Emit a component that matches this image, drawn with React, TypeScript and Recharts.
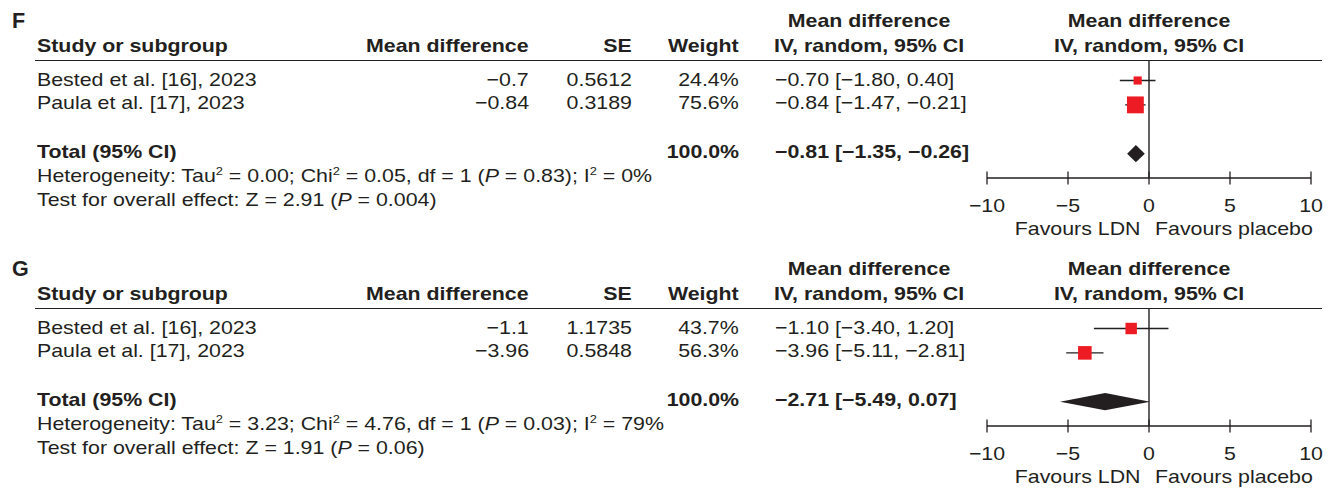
import React from 'react';
import { ComposedChart, Scatter, Area, XAxis, YAxis, ReferenceLine, ErrorBar } from 'recharts';

// ---------- data ----------
const studyNames = ['Bested et al. [16], 2023', 'Paula et al. [17], 2023'];
const studyRows = [1, 2];
const totalRow = 4;

// Panel F
const fMd = [-0.7, -0.84];
const fSe = ['0.5612', '0.3189'];
const fWeight = [24.4, 75.6];
const fCiLow = [-1.8, -1.47];
const fCiHigh = [0.4, -0.21];
const fTotal = [-0.81, -1.35, -0.26];
const fHeterogeneity = ['0.00', '0.05', '1', '0.83', '0%'];
const fOverall = ['2.91', '0.004'];

// Panel G
const gMd = [-1.1, -3.96];
const gSe = ['1.1735', '0.5848'];
const gWeight = [43.7, 56.3];
const gCiLow = [-3.4, -5.11];
const gCiHigh = [1.2, -2.81];
const gTotal = [-2.71, -5.49, 0.07];
const gHeterogeneity = ['3.23', '4.76', '1', '0.03', '79%'];
const gOverall = ['1.91', '0.06'];

const axisTicks = [-10, -5, 0, 5, 10];
const axisTickLabels = ['−10', '−5', '0', '5', '10'];
const favoursLeft = 'Favours LDN';
const favoursRight = 'Favours placebo';

// ---------- styling ----------
const W = 1335;
const PANEL_H = 246;
const INK = '#231f20';
const RED = '#ed1c24';
const FONT = "'Liberation Sans', Arial, Helvetica, sans-serif";
const FS = 18.6;
const SX = 1.148;

const minus = (s: string) => s.replace(/-/g, '−');
const fmt2 = (v: number) => minus(v.toFixed(2));

const T = ({ x, y, align = 'left', bold = false, children }: any) => {
  const base: any = {
    position: 'absolute',
    top: y - FS / 2,
    height: FS,
    lineHeight: `${FS}px`,
    fontSize: FS,
    fontWeight: bold ? 700 : 400,
    whiteSpace: 'nowrap',
    color: INK,
  };
  if (align === 'left') {
    base.left = x;
    base.transformOrigin = 'left center';
    base.transform = `scaleX(${SX})`;
  } else if (align === 'right') {
    base.right = W - x;
    base.transformOrigin = 'right center';
    base.transform = `scaleX(${SX})`;
  } else {
    base.left = x;
    base.transformOrigin = 'center center';
    base.transform = `translateX(-50%) scaleX(${SX})`;
  }
  return <div style={base}>{children}</div>;
};

const Sup = ({ children }: any) => (
  <span style={{ fontSize: '0.6em', position: 'relative', top: '-0.65em' }}>{children}</span>
);

const Square = (props: any) => {
  const { cx, cy, payload } = props;
  if (cx == null || cy == null) return null;
  const s = 4 + 0.17 * payload.w;
  return <rect x={cx - s / 2} y={cy - s / 2} width={s} height={s} fill={RED} />;
};

const Tick = (props: any) => {
  const { x, y, payload } = props;
  const axisY = y - 8;
  const label = axisTickLabels[axisTicks.indexOf(payload.value)];
  return (
    <g>
      <line x1={x} x2={x} y1={axisY - 6.5} y2={axisY + 6.5} stroke={INK} strokeWidth={1.3} />
      <text
        transform={`translate(${x},${axisY + 27.5}) scale(${SX},1)`}
        textAnchor="middle"
        dominantBaseline="central"
        fontSize={FS}
        fontFamily={FONT}
        fill={INK}
      >
        {label}
      </text>
    </g>
  );
};

const Panel = ({ label, md, se, weight, lo, hi, total, het, overall }: any) => {
  const points = md.map((m: number, i: number) => ({
    x: m,
    y: studyRows[i],
    err: [m - lo[i], hi[i] - m],
    w: weight[i],
  }));
  const [tm, tl, th] = total;
  const dh = 0.355;
  const diamond = [
    { x: tl, r: [totalRow, totalRow] },
    { x: tm, r: [totalRow - dh, totalRow + dh] },
    { x: th, r: [totalRow, totalRow] },
  ];
  const rowY = [80, 103.5];
  return (
    <div style={{ position: 'relative', width: W, height: PANEL_H, fontFamily: FONT }}>
      <div style={{ position: 'absolute', left: 0, top: 0 }}>
        <ComposedChart
          width={W}
          height={PANEL_H}
          data={diamond}
          margin={{ top: 61, right: 24, bottom: PANEL_H - 178 - 40, left: 987 }}
        >
          <XAxis
            dataKey="x"
            type="number"
            domain={[-10, 10]}
            ticks={axisTicks}
            interval={0}
            allowDataOverflow
            height={40}
            axisLine={{ stroke: INK, strokeWidth: 1.3 }}
            tickLine={false}
            tickSize={6}
            tickMargin={2}
            tick={<Tick />}
          />
          <YAxis dataKey="y" type="number" domain={[0.2, 5.0]} reversed hide allowDataOverflow />
          <ReferenceLine x={0} stroke={INK} strokeWidth={1.4} />
          <Area
            dataKey="r"
            type="linear"
            stroke="none"
            fill={INK}
            fillOpacity={1}
            dot={false}
            activeDot={false}
            isAnimationActive={false}
          />
          <Scatter data={points} shape={(p: any) => <Square {...p} />} isAnimationActive={false}>
            <ErrorBar dataKey="err" direction="x" width={0} stroke={INK} strokeWidth={1.3} />
          </Scatter>
        </ComposedChart>
      </div>

      <div
        style={{
          position: 'absolute',
          left: 12,
          top: 20.5 - 11,
          height: 22,
          lineHeight: '22px',
          fontSize: 21.5,
          fontWeight: 700,
          color: INK,
        }}
      >
        {label}
      </div>
      {/* header */}
      <T x={37} y={46} bold>Study or subgroup</T>
      <T x={529} y={46} align="right" bold>Mean difference</T>
      <T x={632} y={46} align="right" bold>SE</T>
      <T x={739} y={46} align="right" bold>Weight</T>
      <T x={869} y={21} align="center" bold>Mean difference</T>
      <T x={869} y={46} align="center" bold>IV, random, 95% CI</T>
      <T x={1149} y={21} align="center" bold>Mean difference</T>
      <T x={1149} y={46} align="center" bold>IV, random, 95% CI</T>
      <div
        style={{ position: 'absolute', left: 35, top: 60, width: 1287, height: 0, borderTop: `1.6px solid ${INK}` }}
      />
      {studyNames.map((n, i) => (
        <React.Fragment key={n}>
          <T x={37} y={rowY[i]}>{n}</T>
          <T x={529} y={rowY[i]} align="right">{minus(String(md[i]))}</T>
          <T x={632} y={rowY[i]} align="right">{se[i]}</T>
          <T x={739} y={rowY[i]} align="right">{weight[i].toFixed(1)}%</T>
          <T x={775} y={rowY[i]}>{`${fmt2(md[i])} [${fmt2(lo[i])}, ${fmt2(hi[i])}]`}</T>
        </React.Fragment>
      ))}
      <T x={37} y={152} bold>Total (95% CI)</T>
      <T x={739} y={152} align="right" bold>100.0%</T>
      <T x={775} y={152} bold>{`${fmt2(tm)} [${fmt2(tl)}, ${fmt2(th)}]`}</T>
      <T x={37} y={176.5}>
        Heterogeneity: Tau<Sup>2</Sup> = {het[0]}; Chi<Sup>2</Sup> = {het[1]}, df = {het[2]} (<i>P</i> = {het[3]}); I<Sup>2</Sup> = {het[4]}
      </T>
      <T x={37} y={200}>
        Test for overall effect: Z = {overall[0]} (<i>P</i> = {overall[1]})
      </T>
      <T x={1141} y={229.5} align="right">{favoursLeft}</T>
      <T x={1155} y={229.5}>{favoursRight}</T>
    </div>
  );
};

export default function App() {
  return (
    <div style={{ position: 'absolute', left: 0, top: 0, width: W, height: 489, background: '#fff', overflow: 'hidden' }}>
      <div style={{ position: 'absolute', left: 0, top: 0 }}>
        <Panel label="F" md={fMd} se={fSe} weight={fWeight} lo={fCiLow} hi={fCiHigh} total={fTotal} het={fHeterogeneity} overall={fOverall} />
      </div>
      <div style={{ position: 'absolute', left: 0, top: 248 }}>
        <Panel label="G" md={gMd} se={gSe} weight={gWeight} lo={gCiLow} hi={gCiHigh} total={gTotal} het={gHeterogeneity} overall={gOverall} />
      </div>
    </div>
  );
}
